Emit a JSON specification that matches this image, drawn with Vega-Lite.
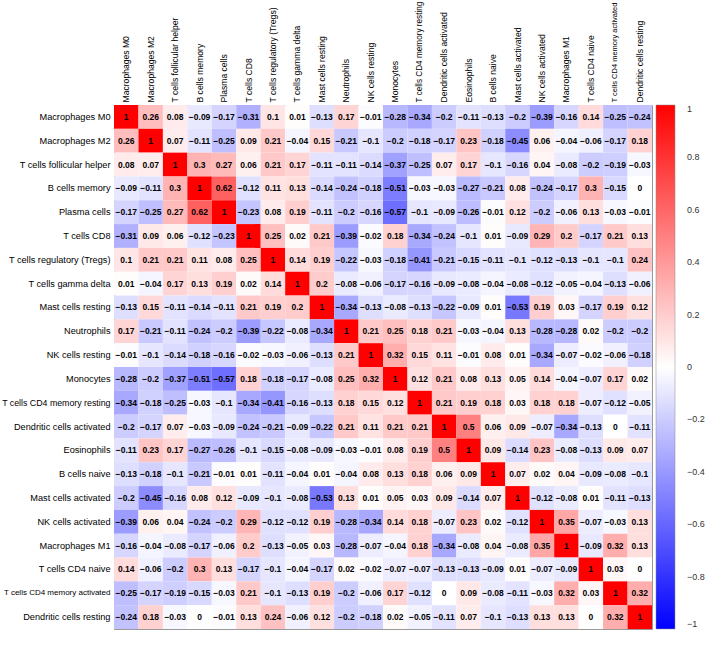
{
  "$schema": "https://vega.github.io/schema/vega-lite/v6.json",
  "width": 538,
  "height": 524,
  "autosize": "none",
  "padding": {"left": 114, "top": 105, "right": 56, "bottom": 20},
  "background": "white",
  "config": {"view": {"stroke": "#999999", "strokeWidth": 1}, "font": "Liberation Sans"},
  "datasets": {
    "labels": [
      {"k": 0, "name": "Macrophages M0"},
      {"k": 1, "name": "Macrophages M2"},
      {"k": 2, "name": "T cells follicular helper"},
      {"k": 3, "name": "B cells memory"},
      {"k": 4, "name": "Plasma cells"},
      {"k": 5, "name": "T cells CD8"},
      {"k": 6, "name": "T cells regulatory (Tregs)"},
      {"k": 7, "name": "T cells gamma delta"},
      {"k": 8, "name": "Mast cells resting"},
      {"k": 9, "name": "Neutrophils"},
      {"k": 10, "name": "NK cells resting"},
      {"k": 11, "name": "Monocytes"},
      {"k": 12, "name": "T cells CD4 memory resting"},
      {"k": 13, "name": "Dendritic cells activated"},
      {"k": 14, "name": "Eosinophils"},
      {"k": 15, "name": "B cells naive"},
      {"k": 16, "name": "Mast cells activated"},
      {"k": 17, "name": "NK cells activated"},
      {"k": 18, "name": "Macrophages M1"},
      {"k": 19, "name": "T cells CD4 naive"},
      {"k": 20, "name": "T cells CD4 memory activated"},
      {"k": 21, "name": "Dendritic cells resting"}
    ],
    "cells": [
{"i":0,"j":0,"v":1},{"i":0,"j":1,"v":0.26},{"i":0,"j":2,"v":0.08},{"i":0,"j":3,"v":-0.09},{"i":0,"j":4,"v":-0.17},{"i":0,"j":5,"v":-0.31},{"i":0,"j":6,"v":0.1},{"i":0,"j":7,"v":0.01},{"i":0,"j":8,"v":-0.13},{"i":0,"j":9,"v":0.17},{"i":0,"j":10,"v":-0.01},{"i":0,"j":11,"v":-0.28},{"i":0,"j":12,"v":-0.34},{"i":0,"j":13,"v":-0.2},{"i":0,"j":14,"v":-0.11},{"i":0,"j":15,"v":-0.13},{"i":0,"j":16,"v":-0.2},{"i":0,"j":17,"v":-0.39},{"i":0,"j":18,"v":-0.16},{"i":0,"j":19,"v":0.14},{"i":0,"j":20,"v":-0.25},{"i":0,"j":21,"v":-0.24},
{"i":1,"j":0,"v":0.26},{"i":1,"j":1,"v":1},{"i":1,"j":2,"v":0.07},{"i":1,"j":3,"v":-0.11},{"i":1,"j":4,"v":-0.25},{"i":1,"j":5,"v":0.09},{"i":1,"j":6,"v":0.21},{"i":1,"j":7,"v":-0.04},{"i":1,"j":8,"v":0.15},{"i":1,"j":9,"v":-0.21},{"i":1,"j":10,"v":-0.1},{"i":1,"j":11,"v":-0.2},{"i":1,"j":12,"v":-0.18},{"i":1,"j":13,"v":-0.17},{"i":1,"j":14,"v":0.23},{"i":1,"j":15,"v":-0.18},{"i":1,"j":16,"v":-0.45},{"i":1,"j":17,"v":0.06},{"i":1,"j":18,"v":-0.04},{"i":1,"j":19,"v":-0.06},{"i":1,"j":20,"v":-0.17},{"i":1,"j":21,"v":0.18},
{"i":2,"j":0,"v":0.08},{"i":2,"j":1,"v":0.07},{"i":2,"j":2,"v":1},{"i":2,"j":3,"v":0.3},{"i":2,"j":4,"v":0.27},{"i":2,"j":5,"v":0.06},{"i":2,"j":6,"v":0.21},{"i":2,"j":7,"v":0.17},{"i":2,"j":8,"v":-0.11},{"i":2,"j":9,"v":-0.11},{"i":2,"j":10,"v":-0.14},{"i":2,"j":11,"v":-0.37},{"i":2,"j":12,"v":-0.25},{"i":2,"j":13,"v":0.07},{"i":2,"j":14,"v":0.17},{"i":2,"j":15,"v":-0.1},{"i":2,"j":16,"v":-0.16},{"i":2,"j":17,"v":0.04},{"i":2,"j":18,"v":-0.08},{"i":2,"j":19,"v":-0.2},{"i":2,"j":20,"v":-0.19},{"i":2,"j":21,"v":-0.03},
{"i":3,"j":0,"v":-0.09},{"i":3,"j":1,"v":-0.11},{"i":3,"j":2,"v":0.3},{"i":3,"j":3,"v":1},{"i":3,"j":4,"v":0.62},{"i":3,"j":5,"v":-0.12},{"i":3,"j":6,"v":0.11},{"i":3,"j":7,"v":0.13},{"i":3,"j":8,"v":-0.14},{"i":3,"j":9,"v":-0.24},{"i":3,"j":10,"v":-0.18},{"i":3,"j":11,"v":-0.51},{"i":3,"j":12,"v":-0.03},{"i":3,"j":13,"v":-0.03},{"i":3,"j":14,"v":-0.27},{"i":3,"j":15,"v":-0.21},{"i":3,"j":16,"v":0.08},{"i":3,"j":17,"v":-0.24},{"i":3,"j":18,"v":-0.17},{"i":3,"j":19,"v":0.3},{"i":3,"j":20,"v":-0.15},{"i":3,"j":21,"v":0},
{"i":4,"j":0,"v":-0.17},{"i":4,"j":1,"v":-0.25},{"i":4,"j":2,"v":0.27},{"i":4,"j":3,"v":0.62},{"i":4,"j":4,"v":1},{"i":4,"j":5,"v":-0.23},{"i":4,"j":6,"v":0.08},{"i":4,"j":7,"v":0.19},{"i":4,"j":8,"v":-0.11},{"i":4,"j":9,"v":-0.2},{"i":4,"j":10,"v":-0.16},{"i":4,"j":11,"v":-0.57},{"i":4,"j":12,"v":-0.1},{"i":4,"j":13,"v":-0.09},{"i":4,"j":14,"v":-0.26},{"i":4,"j":15,"v":-0.01},{"i":4,"j":16,"v":0.12},{"i":4,"j":17,"v":-0.2},{"i":4,"j":18,"v":-0.06},{"i":4,"j":19,"v":0.13},{"i":4,"j":20,"v":-0.03},{"i":4,"j":21,"v":-0.01},
{"i":5,"j":0,"v":-0.31},{"i":5,"j":1,"v":0.09},{"i":5,"j":2,"v":0.06},{"i":5,"j":3,"v":-0.12},{"i":5,"j":4,"v":-0.23},{"i":5,"j":5,"v":1},{"i":5,"j":6,"v":0.25},{"i":5,"j":7,"v":0.02},{"i":5,"j":8,"v":0.21},{"i":5,"j":9,"v":-0.39},{"i":5,"j":10,"v":-0.02},{"i":5,"j":11,"v":0.18},{"i":5,"j":12,"v":-0.34},{"i":5,"j":13,"v":-0.24},{"i":5,"j":14,"v":-0.1},{"i":5,"j":15,"v":0.01},{"i":5,"j":16,"v":-0.09},{"i":5,"j":17,"v":0.29},{"i":5,"j":18,"v":0.2},{"i":5,"j":19,"v":-0.17},{"i":5,"j":20,"v":0.21},{"i":5,"j":21,"v":0.13},
{"i":6,"j":0,"v":0.1},{"i":6,"j":1,"v":0.21},{"i":6,"j":2,"v":0.21},{"i":6,"j":3,"v":0.11},{"i":6,"j":4,"v":0.08},{"i":6,"j":5,"v":0.25},{"i":6,"j":6,"v":1},{"i":6,"j":7,"v":0.14},{"i":6,"j":8,"v":0.19},{"i":6,"j":9,"v":-0.22},{"i":6,"j":10,"v":-0.03},{"i":6,"j":11,"v":-0.18},{"i":6,"j":12,"v":-0.41},{"i":6,"j":13,"v":-0.21},{"i":6,"j":14,"v":-0.15},{"i":6,"j":15,"v":-0.11},{"i":6,"j":16,"v":-0.1},{"i":6,"j":17,"v":-0.12},{"i":6,"j":18,"v":-0.13},{"i":6,"j":19,"v":-0.1},{"i":6,"j":20,"v":-0.1},{"i":6,"j":21,"v":0.24},
{"i":7,"j":0,"v":0.01},{"i":7,"j":1,"v":-0.04},{"i":7,"j":2,"v":0.17},{"i":7,"j":3,"v":0.13},{"i":7,"j":4,"v":0.19},{"i":7,"j":5,"v":0.02},{"i":7,"j":6,"v":0.14},{"i":7,"j":7,"v":1},{"i":7,"j":8,"v":0.2},{"i":7,"j":9,"v":-0.08},{"i":7,"j":10,"v":-0.06},{"i":7,"j":11,"v":-0.17},{"i":7,"j":12,"v":-0.16},{"i":7,"j":13,"v":-0.09},{"i":7,"j":14,"v":-0.08},{"i":7,"j":15,"v":-0.04},{"i":7,"j":16,"v":-0.08},{"i":7,"j":17,"v":-0.12},{"i":7,"j":18,"v":-0.05},{"i":7,"j":19,"v":-0.04},{"i":7,"j":20,"v":-0.13},{"i":7,"j":21,"v":-0.06},
{"i":8,"j":0,"v":-0.13},{"i":8,"j":1,"v":0.15},{"i":8,"j":2,"v":-0.11},{"i":8,"j":3,"v":-0.14},{"i":8,"j":4,"v":-0.11},{"i":8,"j":5,"v":0.21},{"i":8,"j":6,"v":0.19},{"i":8,"j":7,"v":0.2},{"i":8,"j":8,"v":1},{"i":8,"j":9,"v":-0.34},{"i":8,"j":10,"v":-0.13},{"i":8,"j":11,"v":-0.08},{"i":8,"j":12,"v":-0.13},{"i":8,"j":13,"v":-0.22},{"i":8,"j":14,"v":-0.09},{"i":8,"j":15,"v":0.01},{"i":8,"j":16,"v":-0.53},{"i":8,"j":17,"v":0.19},{"i":8,"j":18,"v":0.03},{"i":8,"j":19,"v":-0.17},{"i":8,"j":20,"v":0.19},{"i":8,"j":21,"v":0.12},
{"i":9,"j":0,"v":0.17},{"i":9,"j":1,"v":-0.21},{"i":9,"j":2,"v":-0.11},{"i":9,"j":3,"v":-0.24},{"i":9,"j":4,"v":-0.2},{"i":9,"j":5,"v":-0.39},{"i":9,"j":6,"v":-0.22},{"i":9,"j":7,"v":-0.08},{"i":9,"j":8,"v":-0.34},{"i":9,"j":9,"v":1},{"i":9,"j":10,"v":0.21},{"i":9,"j":11,"v":0.25},{"i":9,"j":12,"v":0.18},{"i":9,"j":13,"v":0.21},{"i":9,"j":14,"v":-0.03},{"i":9,"j":15,"v":-0.04},{"i":9,"j":16,"v":0.13},{"i":9,"j":17,"v":-0.28},{"i":9,"j":18,"v":-0.28},{"i":9,"j":19,"v":0.02},{"i":9,"j":20,"v":-0.2},{"i":9,"j":21,"v":-0.2},
{"i":10,"j":0,"v":-0.01},{"i":10,"j":1,"v":-0.1},{"i":10,"j":2,"v":-0.14},{"i":10,"j":3,"v":-0.18},{"i":10,"j":4,"v":-0.16},{"i":10,"j":5,"v":-0.02},{"i":10,"j":6,"v":-0.03},{"i":10,"j":7,"v":-0.06},{"i":10,"j":8,"v":-0.13},{"i":10,"j":9,"v":0.21},{"i":10,"j":10,"v":1},{"i":10,"j":11,"v":0.32},{"i":10,"j":12,"v":0.15},{"i":10,"j":13,"v":0.11},{"i":10,"j":14,"v":-0.01},{"i":10,"j":15,"v":0.08},{"i":10,"j":16,"v":0.01},{"i":10,"j":17,"v":-0.34},{"i":10,"j":18,"v":-0.07},{"i":10,"j":19,"v":-0.02},{"i":10,"j":20,"v":-0.06},{"i":10,"j":21,"v":-0.18},
{"i":11,"j":0,"v":-0.28},{"i":11,"j":1,"v":-0.2},{"i":11,"j":2,"v":-0.37},{"i":11,"j":3,"v":-0.51},{"i":11,"j":4,"v":-0.57},{"i":11,"j":5,"v":0.18},{"i":11,"j":6,"v":-0.18},{"i":11,"j":7,"v":-0.17},{"i":11,"j":8,"v":-0.08},{"i":11,"j":9,"v":0.25},{"i":11,"j":10,"v":0.32},{"i":11,"j":11,"v":1},{"i":11,"j":12,"v":0.12},{"i":11,"j":13,"v":0.21},{"i":11,"j":14,"v":0.08},{"i":11,"j":15,"v":0.13},{"i":11,"j":16,"v":0.05},{"i":11,"j":17,"v":0.14},{"i":11,"j":18,"v":-0.04},{"i":11,"j":19,"v":-0.07},{"i":11,"j":20,"v":0.17},{"i":11,"j":21,"v":0.02},
{"i":12,"j":0,"v":-0.34},{"i":12,"j":1,"v":-0.18},{"i":12,"j":2,"v":-0.25},{"i":12,"j":3,"v":-0.03},{"i":12,"j":4,"v":-0.1},{"i":12,"j":5,"v":-0.34},{"i":12,"j":6,"v":-0.41},{"i":12,"j":7,"v":-0.16},{"i":12,"j":8,"v":-0.13},{"i":12,"j":9,"v":0.18},{"i":12,"j":10,"v":0.15},{"i":12,"j":11,"v":0.12},{"i":12,"j":12,"v":1},{"i":12,"j":13,"v":0.21},{"i":12,"j":14,"v":0.19},{"i":12,"j":15,"v":0.18},{"i":12,"j":16,"v":0.03},{"i":12,"j":17,"v":0.18},{"i":12,"j":18,"v":0.18},{"i":12,"j":19,"v":-0.07},{"i":12,"j":20,"v":-0.12},{"i":12,"j":21,"v":-0.05},
{"i":13,"j":0,"v":-0.2},{"i":13,"j":1,"v":-0.17},{"i":13,"j":2,"v":0.07},{"i":13,"j":3,"v":-0.03},{"i":13,"j":4,"v":-0.09},{"i":13,"j":5,"v":-0.24},{"i":13,"j":6,"v":-0.21},{"i":13,"j":7,"v":-0.09},{"i":13,"j":8,"v":-0.22},{"i":13,"j":9,"v":0.21},{"i":13,"j":10,"v":0.11},{"i":13,"j":11,"v":0.21},{"i":13,"j":12,"v":0.21},{"i":13,"j":13,"v":1},{"i":13,"j":14,"v":0.5},{"i":13,"j":15,"v":0.06},{"i":13,"j":16,"v":0.09},{"i":13,"j":17,"v":-0.07},{"i":13,"j":18,"v":-0.34},{"i":13,"j":19,"v":-0.13},{"i":13,"j":20,"v":0},{"i":13,"j":21,"v":-0.11},
{"i":14,"j":0,"v":-0.11},{"i":14,"j":1,"v":0.23},{"i":14,"j":2,"v":0.17},{"i":14,"j":3,"v":-0.27},{"i":14,"j":4,"v":-0.26},{"i":14,"j":5,"v":-0.1},{"i":14,"j":6,"v":-0.15},{"i":14,"j":7,"v":-0.08},{"i":14,"j":8,"v":-0.09},{"i":14,"j":9,"v":-0.03},{"i":14,"j":10,"v":-0.01},{"i":14,"j":11,"v":0.08},{"i":14,"j":12,"v":0.19},{"i":14,"j":13,"v":0.5},{"i":14,"j":14,"v":1},{"i":14,"j":15,"v":0.09},{"i":14,"j":16,"v":-0.14},{"i":14,"j":17,"v":0.23},{"i":14,"j":18,"v":-0.08},{"i":14,"j":19,"v":-0.13},{"i":14,"j":20,"v":0.09},{"i":14,"j":21,"v":0.07},
{"i":15,"j":0,"v":-0.13},{"i":15,"j":1,"v":-0.18},{"i":15,"j":2,"v":-0.1},{"i":15,"j":3,"v":-0.21},{"i":15,"j":4,"v":-0.01},{"i":15,"j":5,"v":0.01},{"i":15,"j":6,"v":-0.11},{"i":15,"j":7,"v":-0.04},{"i":15,"j":8,"v":0.01},{"i":15,"j":9,"v":-0.04},{"i":15,"j":10,"v":0.08},{"i":15,"j":11,"v":0.13},{"i":15,"j":12,"v":0.18},{"i":15,"j":13,"v":0.06},{"i":15,"j":14,"v":0.09},{"i":15,"j":15,"v":1},{"i":15,"j":16,"v":0.07},{"i":15,"j":17,"v":0.02},{"i":15,"j":18,"v":0.04},{"i":15,"j":19,"v":-0.09},{"i":15,"j":20,"v":-0.08},{"i":15,"j":21,"v":-0.1},
{"i":16,"j":0,"v":-0.2},{"i":16,"j":1,"v":-0.45},{"i":16,"j":2,"v":-0.16},{"i":16,"j":3,"v":0.08},{"i":16,"j":4,"v":0.12},{"i":16,"j":5,"v":-0.09},{"i":16,"j":6,"v":-0.1},{"i":16,"j":7,"v":-0.08},{"i":16,"j":8,"v":-0.53},{"i":16,"j":9,"v":0.13},{"i":16,"j":10,"v":0.01},{"i":16,"j":11,"v":0.05},{"i":16,"j":12,"v":0.03},{"i":16,"j":13,"v":0.09},{"i":16,"j":14,"v":-0.14},{"i":16,"j":15,"v":0.07},{"i":16,"j":16,"v":1},{"i":16,"j":17,"v":-0.12},{"i":16,"j":18,"v":-0.08},{"i":16,"j":19,"v":0.01},{"i":16,"j":20,"v":-0.11},{"i":16,"j":21,"v":-0.13},
{"i":17,"j":0,"v":-0.39},{"i":17,"j":1,"v":0.06},{"i":17,"j":2,"v":0.04},{"i":17,"j":3,"v":-0.24},{"i":17,"j":4,"v":-0.2},{"i":17,"j":5,"v":0.29},{"i":17,"j":6,"v":-0.12},{"i":17,"j":7,"v":-0.12},{"i":17,"j":8,"v":0.19},{"i":17,"j":9,"v":-0.28},{"i":17,"j":10,"v":-0.34},{"i":17,"j":11,"v":0.14},{"i":17,"j":12,"v":0.18},{"i":17,"j":13,"v":-0.07},{"i":17,"j":14,"v":0.23},{"i":17,"j":15,"v":0.02},{"i":17,"j":16,"v":-0.12},{"i":17,"j":17,"v":1},{"i":17,"j":18,"v":0.35},{"i":17,"j":19,"v":-0.07},{"i":17,"j":20,"v":-0.03},{"i":17,"j":21,"v":0.13},
{"i":18,"j":0,"v":-0.16},{"i":18,"j":1,"v":-0.04},{"i":18,"j":2,"v":-0.08},{"i":18,"j":3,"v":-0.17},{"i":18,"j":4,"v":-0.06},{"i":18,"j":5,"v":0.2},{"i":18,"j":6,"v":-0.13},{"i":18,"j":7,"v":-0.05},{"i":18,"j":8,"v":0.03},{"i":18,"j":9,"v":-0.28},{"i":18,"j":10,"v":-0.07},{"i":18,"j":11,"v":-0.04},{"i":18,"j":12,"v":0.18},{"i":18,"j":13,"v":-0.34},{"i":18,"j":14,"v":-0.08},{"i":18,"j":15,"v":0.04},{"i":18,"j":16,"v":-0.08},{"i":18,"j":17,"v":0.35},{"i":18,"j":18,"v":1},{"i":18,"j":19,"v":-0.09},{"i":18,"j":20,"v":0.32},{"i":18,"j":21,"v":0.13},
{"i":19,"j":0,"v":0.14},{"i":19,"j":1,"v":-0.06},{"i":19,"j":2,"v":-0.2},{"i":19,"j":3,"v":0.3},{"i":19,"j":4,"v":0.13},{"i":19,"j":5,"v":-0.17},{"i":19,"j":6,"v":-0.1},{"i":19,"j":7,"v":-0.04},{"i":19,"j":8,"v":-0.17},{"i":19,"j":9,"v":0.02},{"i":19,"j":10,"v":-0.02},{"i":19,"j":11,"v":-0.07},{"i":19,"j":12,"v":-0.07},{"i":19,"j":13,"v":-0.13},{"i":19,"j":14,"v":-0.13},{"i":19,"j":15,"v":-0.09},{"i":19,"j":16,"v":0.01},{"i":19,"j":17,"v":-0.07},{"i":19,"j":18,"v":-0.09},{"i":19,"j":19,"v":1},{"i":19,"j":20,"v":0.03},{"i":19,"j":21,"v":0},
{"i":20,"j":0,"v":-0.25},{"i":20,"j":1,"v":-0.17},{"i":20,"j":2,"v":-0.19},{"i":20,"j":3,"v":-0.15},{"i":20,"j":4,"v":-0.03},{"i":20,"j":5,"v":0.21},{"i":20,"j":6,"v":-0.1},{"i":20,"j":7,"v":-0.13},{"i":20,"j":8,"v":0.19},{"i":20,"j":9,"v":-0.2},{"i":20,"j":10,"v":-0.06},{"i":20,"j":11,"v":0.17},{"i":20,"j":12,"v":-0.12},{"i":20,"j":13,"v":0},{"i":20,"j":14,"v":0.09},{"i":20,"j":15,"v":-0.08},{"i":20,"j":16,"v":-0.11},{"i":20,"j":17,"v":-0.03},{"i":20,"j":18,"v":0.32},{"i":20,"j":19,"v":0.03},{"i":20,"j":20,"v":1},{"i":20,"j":21,"v":0.32},
{"i":21,"j":0,"v":-0.24},{"i":21,"j":1,"v":0.18},{"i":21,"j":2,"v":-0.03},{"i":21,"j":3,"v":0},{"i":21,"j":4,"v":-0.01},{"i":21,"j":5,"v":0.13},{"i":21,"j":6,"v":0.24},{"i":21,"j":7,"v":-0.06},{"i":21,"j":8,"v":0.12},{"i":21,"j":9,"v":-0.2},{"i":21,"j":10,"v":-0.18},{"i":21,"j":11,"v":0.02},{"i":21,"j":12,"v":-0.05},{"i":21,"j":13,"v":-0.11},{"i":21,"j":14,"v":0.07},{"i":21,"j":15,"v":-0.1},{"i":21,"j":16,"v":-0.13},{"i":21,"j":17,"v":0.13},{"i":21,"j":18,"v":0.13},{"i":21,"j":19,"v":0},{"i":21,"j":20,"v":0.32},{"i":21,"j":21,"v":1}
    ]
  },
  "data": {"name": "cells"},
  "transform": [
    {"lookup": "i", "from": {"data": {"name": "labels"}, "key": "k", "fields": ["name"]}, "as": ["rowName"]},
    {"lookup": "j", "from": {"data": {"name": "labels"}, "key": "k", "fields": ["name"]}, "as": ["colName"]}
  ],
  "encoding": {
    "x": {
      "field": "colName", "type": "nominal", "sort": {"field": "j", "op": "min"},
      "scale": {"paddingInner": 0, "paddingOuter": 0},
      "axis": {"orient": "top", "title": null, "labelAngle": -90, "ticks": false, "domain": false,
        "labelFontSize": {"condition": [
          {"test": "datum.label == 'T cells CD4 memory activated'", "value": 7.5},
          {"test": "datum.label == 'T cells CD4 memory resting'", "value": 8.2}
        ], "value": 8.6},
        "labelColor": "#000000", "labelPadding": 3, "labelLimit": 200}
    },
    "y": {
      "field": "rowName", "type": "nominal", "sort": {"field": "i", "op": "min"},
      "scale": {"paddingInner": 0, "paddingOuter": 0},
      "axis": {"orient": "left", "title": null, "ticks": false, "domain": false,
        "labelFontSize": {"condition": [
          {"test": "datum.label == 'T cells CD4 memory activated'", "value": 8.0},
          {"test": "datum.label == 'T cells CD4 memory resting'", "value": 8.8}
        ], "value": 9.2},
        "labelColor": "#000000", "labelPadding": 4, "labelLimit": 200}
    }
  },
  "layer": [
    {
      "mark": {"type": "rect"},
      "encoding": {
        "color": {
          "field": "v", "type": "quantitative",
          "scale": {"domain": [-1, 0, 1], "range": ["#0000ff", "#ffffff", "#ff0000"], "interpolate": "rgb"},
          "legend": {
            "title": null, "orient": "right", "offset": 4, "direction": "vertical",
            "gradientLength": 524, "gradientThickness": 19,
            "values": [1, 0.8, 0.6, 0.4, 0.2, 0, -0.2, -0.4, -0.6, -0.8, -1],
            "format": ".1~f",
            "labelFontSize": 9, "labelColor": "#333333", "labelOverlap": false, "labelOffset": 12,
            "gradientStrokeColor": "#888888", "gradientStrokeWidth": 0.5
          }
        }
      }
    },
    {
      "mark": {"type": "text", "fontSize": 8.5, "fontWeight": "bold", "color": "#000000"},
      "encoding": {"text": {"field": "v", "type": "quantitative"}}
    }
  ]
}
